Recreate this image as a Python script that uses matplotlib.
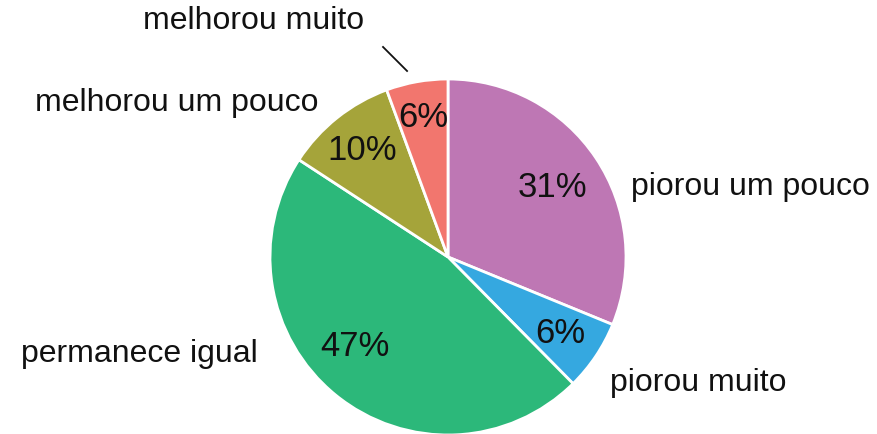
import numpy as np
import matplotlib.pyplot as plt

plt.rcParams['font.family'] = ['Liberation Sans', 'DejaVu Sans']

# clockwise from the top
categories = ["piorou um pouco", "piorou muito", "permanece igual",
              "melhorou um pouco", "melhorou muito"]
shares = [31.2, 6.4, 46.6, 10.2, 5.6]
colors = ["#BE77B4", "#35A8E0", "#2CB87A", "#A5A43A", "#F2766E"]


def plot_share_pie(ax):
  wedges, _, pcts = ax.pie(
      shares,
      colors=colors,
      startangle=90,
      counterclock=False,
      autopct="%.0f%%",
      pctdistance=0.74,
      radius=1.0,
      wedgeprops=dict(edgecolor="white", linewidth=2),
      textprops=dict(fontsize=25, color="#111111"),
  )
  # nudge percentage labels like the original
  radial = [0.71, 0.76, 0.72, 0.77, 0.80]
  turn = [0, 0, -7, 0, 0]
  for w, t, r, d in zip(wedges, pcts, radial, turn):
    mid = np.deg2rad((w.theta1 + w.theta2) / 2 + d)
    t.set_position((r * np.cos(mid), r * np.sin(mid)))

  label_pos = {
      "piorou um pouco": (1.03, 0.40, "left"),
      "piorou muito": (0.91, -0.70, "left"),
      "permanece igual": (-1.07, -0.54, "right"),
      "melhorou um pouco": (-0.73, 0.87, "right"),
      "melhorou muito": (-0.47, 1.33, "right"),
  }
  for name in categories:
    x, y, ha = label_pos[name]
    ax.text(x, y, name, ha=ha, va="center", fontsize=23, color="#111111",
            clip_on=False)
  ax.plot([-0.365, -0.23], [1.18, 1.045], color="#111111", linewidth=1.3,
          clip_on=False)

  ax.set_xlim(-1, 1)
  ax.set_ylim(-1, 1)
  ax.set_aspect("equal")
  ax.axis("off")


fig = plt.figure(figsize=(8.78, 4.35), dpi=100)
ax = fig.add_axes([270 / 878, -1 / 435, 356 / 878, 356 / 435])
plot_share_pie(ax)
fig.savefig("out.png", dpi=100)
